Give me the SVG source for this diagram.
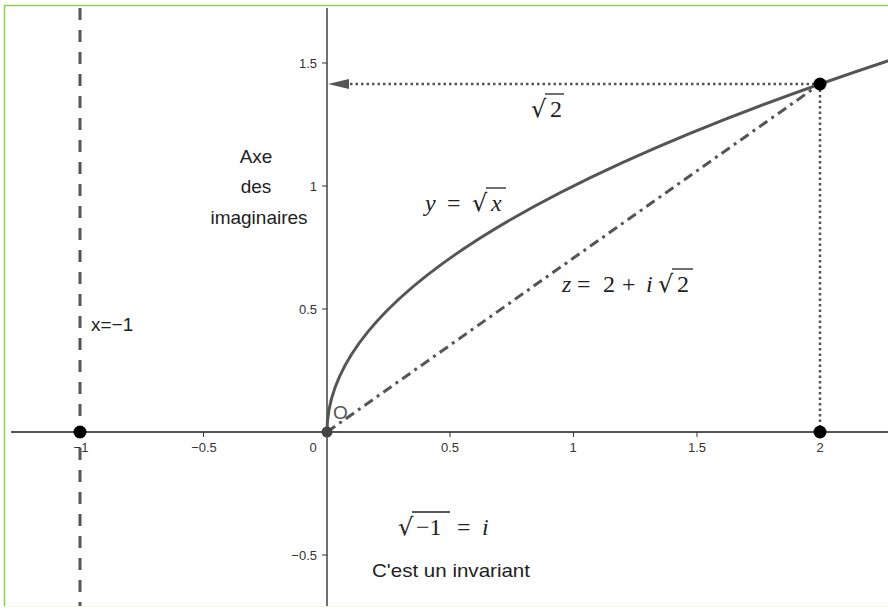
<svg xmlns="http://www.w3.org/2000/svg" width="888" height="610" viewBox="0 0 888 610">
<style>
.tick{font-family:"Liberation Sans",Arial,sans-serif;font-size:13px;fill:#333}
.lbl{font-family:"Liberation Sans",Arial,sans-serif;font-size:19px;fill:#222}
.math{font-family:"Liberation Serif","Times New Roman",serif;font-size:24px;fill:#222}
.rad{font-family:"DejaVu Serif",serif;font-size:24px;fill:#222}
.mi{font-style:italic}
.ax{stroke:#555;stroke-width:2;fill:none}
.tk{stroke:#333;stroke-width:1}
.bar{stroke:#222;stroke-width:1.3}
.pt{fill:#000}
</style>
<rect width="888" height="610" fill="#fff"/>
<path d="M4.5,606 V5.5 H888" stroke="#8fd24a" stroke-width="1.5" fill="none"/>
<line x1="4" y1="606.5" x2="888" y2="606.5" stroke="#eef6e4" stroke-width="1"/>

<g id="axes">
<line class="ax" x1="11" y1="432" x2="888" y2="432"/>
<line x1="327" y1="8" x2="327" y2="606" stroke="#111" stroke-width="1.2"/>
<g class="tk">
<line x1="80" y1="432" x2="80" y2="437"/>
<line x1="203.5" y1="432" x2="203.5" y2="437"/>
<line x1="450" y1="432" x2="450" y2="437"/>
<line x1="573.5" y1="432" x2="573.5" y2="437"/>
<line x1="697" y1="432" x2="697" y2="437"/>
<line x1="820" y1="432" x2="820" y2="437"/>
<line x1="322" y1="63" x2="327" y2="63"/>
<line x1="322" y1="186" x2="327" y2="186"/>
<line x1="322" y1="309" x2="327" y2="309"/>
<line x1="322" y1="555" x2="327" y2="555"/>
</g>
<g class="tick" text-anchor="middle">
<text x="81" y="452">−1</text>
<text x="204" y="452">−0.5</text>
<text x="313" y="452">0</text>
<text x="450" y="452">0.5</text>
<text x="573" y="452">1</text>
<text x="697" y="452">1.5</text>
<text x="820" y="452">2</text>
</g>
<g class="tick" text-anchor="end">
<text x="317" y="68">1.5</text>
<text x="317" y="191">1</text>
<text x="317" y="314">0.5</text>
<text x="317" y="560">−0.5</text>
</g>
</g>

<g id="connectors">
<line x1="80" y1="8" x2="80" y2="606" stroke="#555" stroke-width="3" stroke-dasharray="12 10"/>
<path d="M327,432 Q327,245 896.5,58" stroke="#555" stroke-width="3" fill="none"/>
<line x1="327" y1="432" x2="820" y2="84" stroke="#555" stroke-width="3" stroke-dasharray="10 5 3 5"/>
<line x1="820" y1="84" x2="350" y2="84" stroke="#555" stroke-width="2.5" stroke-dasharray="2.5 3"/>
<path d="M349,79 L328,84 L349,89 Z" fill="#555"/>
<line x1="820" y1="84" x2="820" y2="432" stroke="#555" stroke-width="2.5" stroke-dasharray="2.5 3"/>
</g>

<g id="points">
<circle class="pt" cx="80" cy="432" r="6.5"/>
<circle class="pt" cx="820" cy="432" r="6.5"/>
<circle class="pt" cx="820" cy="84" r="6.5"/>
<circle cx="327" cy="432" r="5.5" fill="#444"/>
</g>

<g id="labels">
<text class="lbl" x="333" y="419" style="fill:#555">O</text>
<text class="lbl" x="91" y="331">x=−1</text>
<text class="lbl" x="256" y="163" text-anchor="middle">Axe</text>
<text class="lbl" x="256" y="193" text-anchor="middle">des</text>
<text class="lbl" x="259" y="224" text-anchor="middle">imaginaires</text>
<text class="lbl" x="372" y="577" textLength="158" lengthAdjust="spacingAndGlyphs">C'est un invariant</text>
</g>

<g id="math">
<g id="sqrt2">
<text class="rad" x="531" y="117">√</text>
<line class="bar" x1="545" y1="94" x2="564" y2="94"/>
<text class="math" x="550" y="117">2</text>
</g>
<g id="ysqrtx">
<text class="math mi" x="425" y="211">y</text>
<text class="math" x="447" y="211">=</text>
<text class="rad" x="472" y="211">√</text>
<line class="bar" x1="486" y1="188" x2="506" y2="188"/>
<text class="math mi" x="491" y="211">x</text>
</g>
<g id="zeq">
<text class="math mi" x="562" y="292">z</text>
<text class="math" x="577" y="292">=</text>
<text class="math" x="603" y="292">2</text>
<text class="math" x="622" y="292">+</text>
<text class="math mi" x="646" y="292">i</text>
<text class="rad" x="658" y="292">√</text>
<line class="bar" x1="672" y1="269" x2="693" y2="269"/>
<text class="math" x="677" y="292">2</text>
</g>
<g id="sqrtm1">
<text class="rad" x="398" y="535">√</text>
<line class="bar" x1="412" y1="512" x2="450" y2="512"/>
<text class="math" x="416" y="535">−1</text>
<text class="math" x="457" y="535">=</text>
<text class="math mi" x="482" y="535">i</text>
</g>
</g>
</svg>
